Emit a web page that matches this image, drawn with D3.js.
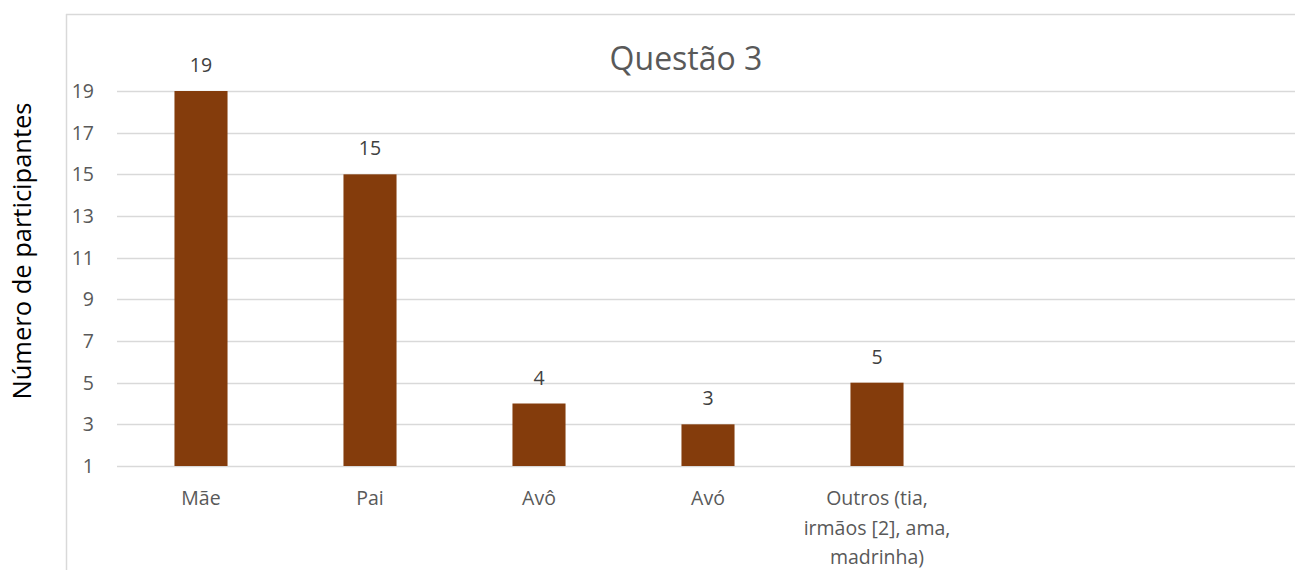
<!DOCTYPE html>
<html><head><meta charset="utf-8">
<script src="https://cdn.jsdelivr.net/npm/d3@7"></script>
<style>html,body{margin:0;padding:0;background:#fff;overflow:hidden;width:1295px;height:570px}svg{display:block;position:absolute;left:0;top:0}text{font-family:"Open Sans",sans-serif}</style>
</head><body>
<script>
const categories = ["Mãe", "Pai", "Avô", "Avó", "Outros (tia, irmãos [2], ama, madrinha)", "", " "];
const values = [19, 15, 4, 3, 5, null, null];
const yTicks = [1, 3, 5, 7, 9, 11, 13, 15, 17, 19];
const labelLines = [["Mãe"], ["Pai"], ["Avô"], ["Avó"], ["Outros (tia,", "irmãos [2], ama,", "madrinha)"], [], []];
const title = "Questão 3";
const yTitle = "Número de participantes";

const W = 1295, H = 570;
const svg = d3.select("body").append("svg").attr("width", W).attr("height", H).attr("viewBox", `0 0 ${W} ${H}`);

// chart area border
svg.append("line").attr("x1", 66.5).attr("x2", 66.5).attr("y1", 14).attr("y2", H).attr("stroke", "#d9d9d9").attr("stroke-width", 1.5);
svg.append("line").attr("x1", 66).attr("x2", W).attr("y1", 14.5).attr("y2", 14.5).attr("stroke", "#d9d9d9").attr("stroke-width", 1.5);

const x = d3.scaleBand().domain(d3.range(categories.length)).range([116.5, 1299.5]).paddingInner(0.686).paddingOuter(0.343);
const y = d3.scaleLinear().domain([1, 19]).range([466, 91]);

// gridlines
svg.append("g").selectAll("line").data(yTicks).join("line")
  .attr("x1", 117).attr("x2", W).attr("y1", d => Math.round(y(d)) + 0.5).attr("y2", d => Math.round(y(d)) + 0.5)
  .attr("stroke", "#d9d9d9").attr("stroke-width", 1.5);

// y axis labels
const yAxis = d3.axisLeft(y).tickValues(yTicks).tickSize(0).tickPadding(0);
const gy = svg.append("g").attr("transform", "translate(94,0)").call(yAxis);
gy.select(".domain").remove();
gy.selectAll("text").attr("font-size", 19.5).attr("fill", "#595959").attr("font-family", "'Open Sans',sans-serif").attr("dy", "0.34em");

// bars
const data = categories.map((c, i) => ({i, c, v: values[i]})).filter(d => d.v != null);
svg.append("g").selectAll("rect").data(data).join("rect")
  .attr("x", d => x(d.i)).attr("width", x.bandwidth())
  .attr("y", d => y(d.v)).attr("height", d => y(1) - y(d.v))
  .attr("fill", "#843c0c");

// data labels
svg.append("g").selectAll("text").data(data).join("text")
  .attr("x", d => x(d.i) + x.bandwidth() / 2).attr("y", d => y(d.v) - 19)
  .attr("text-anchor", "middle").attr("font-size", 19.5).attr("fill", "#404040")
  .text(d => d.v);

// category labels
const gx = svg.append("g");
labelLines.forEach((lines, i) => {
  const t = gx.append("text").attr("text-anchor", "middle").attr("font-size", 19.5).attr("fill", "#595959");
  lines.forEach((ln, k) => {
    t.append("tspan").attr("x", x(i) + x.bandwidth() / 2).attr("y", 505 + k * 29.5).text(ln);
  });
});

// title
svg.append("text").attr("x", 686).attr("y", 70).attr("text-anchor", "middle")
  .attr("font-size", 32).attr("fill", "#595959").text(title);

// y title
svg.append("text").attr("transform", "translate(31,251) rotate(-90)").attr("text-anchor", "middle")
  .attr("font-size", 25.5).attr("fill", "#000").text(yTitle);
</script>
</body></html>
